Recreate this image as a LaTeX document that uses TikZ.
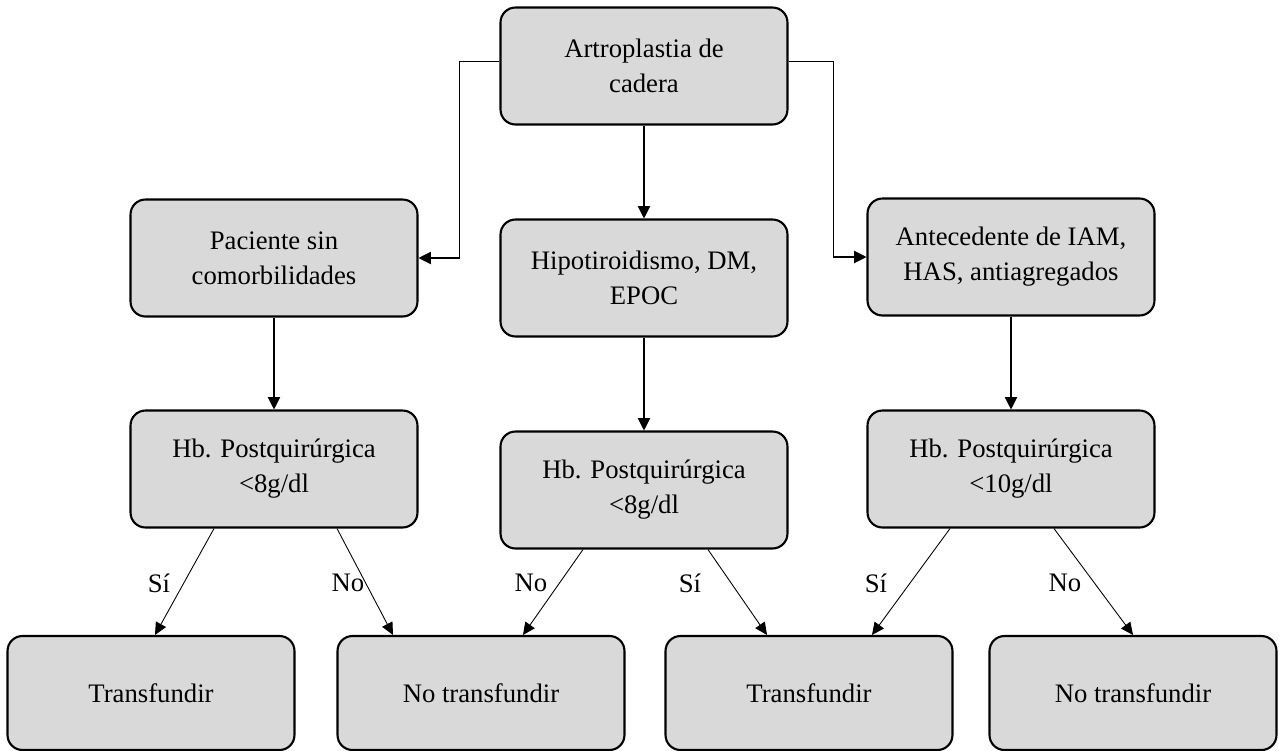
\documentclass[tikz,border=0pt]{standalone}
\usepackage{fontspec}
\setmainfont{Liberation Serif}
\usetikzlibrary{arrows.meta,positioning,calc}
\definecolor{boxGray}{RGB}{217,217,217}

\begin{document}
\begin{tikzpicture}[x=0.02cm,y=-0.02cm,
    caja/.style={draw=black, line width=1.2pt, fill=boxGray, rounded corners=8.5pt,
      minimum width=5.74cm, minimum height=2.34cm, inner sep=0pt, align=center,
      font=\fontsize{15.2}{20}\selectfont},
    final/.style={caja, minimum height=2.28cm},
    flecha/.style={-{Triangle[length=7pt,width=7pt]}, line width=0.6pt},
    rama/.style={-{Triangle[length=7pt,width=6.5pt]}, line width=0.5pt},
    etiq/.style={inner sep=0pt, font=\fontsize{15.2}{20}\selectfont}]
  \useasboundingbox (0,0) rectangle (1279,751);

  % niveles
  \node[caja] (top) at (644,66) {Artroplastia de\\cadera};
  \node[caja] (pacL) at (274,258) {Paciente sin\\comorbilidades};
  \node[caja] (hipo) at (644,278) {Hipotiroidismo, DM,\\EPOC};
  \node[caja] (antR) at (1011,257) {Antecedente de IAM,\\HAS, antiagregados};
  \node[caja] (hbL) at (274,469) {Hb. Postquirúrgica\\<8g/dl};
  \node[caja] (hbC) at (644,490) {Hb. Postquirúrgica\\<8g/dl};
  \node[caja] (hbR) at (1011,469) {Hb. Postquirúrgica\\<10g/dl};
  \node[final] (trA) at (151,693) {Transfundir};
  \node[final] (noA) at (481,693) {No transfundir};
  \node[final] (trB) at (809,693) {Transfundir};
  \node[final] (noB) at (1133,693) {No transfundir};

  % conectores
  \draw[flecha] ([yshift=2.3pt]top.west) -- ++(-40,0) |- (pacL.east);
  \draw[flecha] ([yshift=2.3pt]top.east) -- ++(45,0) |- (antR.west);
  \draw[flecha] (top) -- (hipo);
  \draw[flecha] (pacL) -- (hbL);
  \draw[flecha] (hipo) -- (hbC);
  \draw[flecha] (antR) -- (hbR);

  \draw[rama] ($(hbL.south)+(-60,0)$) -- ($(trA.north)+(4,0)$);
  \draw[rama] ($(hbL.south)+(63,0)$) -- ($(noA.north)+(-88,0)$);
  \draw[rama] ($(hbC.south)+(-61,0)$) -- ($(noA.north)+(42,0)$);
  \draw[rama] ($(hbC.south)+(64,0)$) -- ($(trB.north)+(-42,0)$);
  \draw[rama] ($(hbR.south)+(-61,0)$) -- ($(trB.north)+(63,0)$);
  \draw[rama] ($(hbR.south)+(43,0)$) -- (noB.north);

  \node[etiq] (siA) at (159,583) {Sí};
  \node[etiq] (noLA) at (348,583) {No};
  \node[etiq] (noLB) at (531,583) {No};
  \node[etiq] (siB) at (690,583) {Sí};
  \node[etiq] (siC) at (876,583) {Sí};
  \node[etiq] (noLC) at (1065,583) {No};
\end{tikzpicture}
\end{document}
